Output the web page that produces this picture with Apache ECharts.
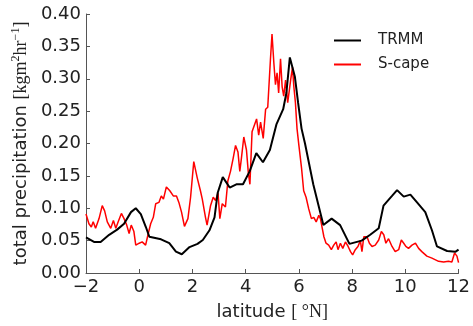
<!DOCTYPE html>
<html>
<head>
<meta charset="utf-8">
<script src="https://cdn.jsdelivr.net/npm/echarts@6/dist/echarts.min.js"></script>
<style>
html,body{margin:0;padding:0;background:#fff;}
#c{width:473px;height:326px;}
</style>
</head>
<body>
<div id="c"></div>
<script>
// ---- data ----
const xTicks = [-2, 0, 2, 4, 6, 8, 10, 12];
const yTicks = [0.00, 0.05, 0.10, 0.15, 0.20, 0.25, 0.30, 0.35, 0.40];
const seriesNames = ['TRMM', 'S-cape'];

const trmmLat = [-2.0,-1.7,-1.45,-1.13,-0.83,-0.57,-0.31,-0.13,0.06,0.25,0.38,0.82,1.13,1.38,1.6,1.89,2.19,2.39,2.64,2.83,2.95,3.14,3.40,3.65,3.90,4.15,4.40,4.65,4.91,5.16,5.41,5.53,5.66,5.85,5.97,6.10,6.23,6.54,6.92,7.23,7.55,7.90,8.36,8.68,9.0,9.18,9.50,9.69,9.94,10.19,10.44,10.75,11.0,11.19,11.57,11.89,12.0];
const trmmVal = [0.055,0.048,0.048,0.059,0.067,0.076,0.094,0.100,0.091,0.071,0.056,0.052,0.046,0.033,0.029,0.040,0.045,0.051,0.066,0.086,0.124,0.148,0.132,0.137,0.137,0.157,0.185,0.171,0.190,0.230,0.253,0.278,0.333,0.303,0.263,0.223,0.200,0.137,0.074,0.084,0.074,0.045,0.050,0.059,0.069,0.104,0.119,0.128,0.118,0.121,0.109,0.094,0.066,0.041,0.034,0.033,0.036];

const scapeLat = [-2.0,-1.89,-1.80,-1.73,-1.64,-1.51,-1.39,-1.30,-1.20,-1.07,-0.97,-0.88,-0.79,-0.67,-0.57,-0.47,-0.38,-0.30,-0.20,-0.13,0.0,0.11,0.24,0.34,0.43,0.53,0.62,0.74,0.83,0.91,1.02,1.15,1.28,1.40,1.49,1.59,1.70,1.83,1.93,2.05,2.18,2.30,2.37,2.49,2.55,2.68,2.78,2.87,2.96,3.03,3.12,3.24,3.33,3.43,3.53,3.62,3.71,3.78,3.84,3.93,4.03,4.10,4.16,4.24,4.41,4.49,4.56,4.66,4.75,4.83,4.93,4.99,5.06,5.12,5.18,5.24,5.31,5.37,5.43,5.50,5.58,5.69,5.76,5.81,5.87,5.93,6.0,6.10,6.18,6.27,6.37,6.47,6.56,6.65,6.75,6.81,6.87,6.94,7.02,7.12,7.22,7.31,7.40,7.47,7.56,7.65,7.75,7.85,7.94,8.02,8.12,8.22,8.31,8.37,8.44,8.56,8.65,8.75,8.87,9.0,9.10,9.19,9.27,9.37,9.50,9.62,9.75,9.85,9.94,10.02,10.12,10.25,10.38,10.50,10.62,10.81,11.0,11.25,11.44,11.62,11.75,11.85,11.94,12.0];
const scapeVal = [0.091,0.076,0.071,0.079,0.069,0.084,0.104,0.096,0.079,0.069,0.081,0.069,0.079,0.092,0.084,0.074,0.061,0.074,0.064,0.043,0.046,0.048,0.043,0.061,0.076,0.086,0.107,0.109,0.119,0.114,0.133,0.127,0.119,0.119,0.109,0.094,0.072,0.084,0.117,0.172,0.147,0.127,0.114,0.086,0.074,0.104,0.117,0.112,0.124,0.084,0.107,0.102,0.142,0.157,0.177,0.197,0.187,0.157,0.177,0.210,0.190,0.155,0.137,0.218,0.238,0.213,0.233,0.208,0.253,0.256,0.329,0.369,0.324,0.291,0.309,0.278,0.331,0.288,0.273,0.298,0.263,0.298,0.318,0.288,0.263,0.223,0.197,0.162,0.127,0.117,0.099,0.084,0.086,0.079,0.089,0.084,0.071,0.056,0.046,0.043,0.036,0.043,0.048,0.036,0.046,0.038,0.048,0.041,0.033,0.028,0.036,0.041,0.050,0.033,0.056,0.056,0.046,0.041,0.043,0.051,0.064,0.059,0.046,0.053,0.041,0.033,0.036,0.051,0.046,0.041,0.038,0.043,0.046,0.038,0.033,0.026,0.023,0.018,0.017,0.018,0.017,0.031,0.026,0.016];

const zip = (a, b) => a.map((v, i) => [v, b[i]]);

const chart = echarts.init(document.getElementById('c'), null, {renderer: 'canvas'});
const sans = 'DejaVu Sans';
const serif = 'Liberation Serif';
const txt = '#222';

chart.setOption({
  animation: false,
  backgroundColor: '#fff',
  grid: {left: 86, right: 14, top: 14, bottom: 50, containLabel: false},
  legend: {
    orient: 'vertical', left: 329, top: 28,
    icon: 'rect', itemWidth: 27, itemHeight: 2, itemGap: 9,
    textStyle: {fontFamily: sans, fontSize: 15, color: txt, padding: [0, 0, 0, 12]},
    data: seriesNames
  },
  xAxis: {
    type: 'value', min: xTicks[0], max: xTicks[xTicks.length - 1], interval: 2,
    axisLine: {show: true, onZero: false, lineStyle: {color: '#555', width: 1}},
    axisTick: {show: true, inside: true, length: 4, lineStyle: {color: '#555'}},
    splitLine: {show: false},
    axisLabel: {fontFamily: sans, fontSize: 18, color: txt, margin: 5,
      formatter: v => String(v).replace('-', '\u2212')},
    name: '{a|latitude }{b|[ °N]}',
    nameLocation: 'middle', nameGap: 28,
    nameTextStyle: {rich: {
      a: {fontFamily: sans, fontSize: 18, color: txt, lineHeight: 22},
      b: {fontFamily: serif, fontSize: 18, color: txt, lineHeight: 22}
    }}
  },
  yAxis: {
    type: 'value', min: yTicks[0], max: yTicks[yTicks.length - 1], interval: 0.05,
    axisLine: {show: true, onZero: false, lineStyle: {color: '#555', width: 1}},
    axisTick: {show: true, inside: true, length: 4, lineStyle: {color: '#555'}},
    splitLine: {show: false},
    axisLabel: {fontFamily: sans, fontSize: 18, color: txt, margin: 5,
      formatter: v => v.toFixed(2)},
    name: '{a|total precipitation }{b|[kgm}{s|2}{b|hr}{s|−1}{b|]}',
    nameLocation: 'middle', nameGap: 52, nameRotate: 90,
    nameTextStyle: {rich: {
      a: {fontFamily: sans, fontSize: 18, color: txt, lineHeight: 22},
      b: {fontFamily: serif, fontSize: 18, color: txt, lineHeight: 22},
      s: {fontFamily: serif, fontSize: 12, color: txt, lineHeight: 12, verticalAlign: 'top'}
    }}
  },
  series: [
    {name: seriesNames[0], type: 'line', data: zip(trmmLat, trmmVal), showSymbol: false,
     lineStyle: {color: '#000', width: 2}, itemStyle: {color: '#000'}, z: 3},
    {name: seriesNames[1], type: 'line', data: zip(scapeLat, scapeVal), showSymbol: false,
     lineStyle: {color: '#ff0000', width: 1.5}, itemStyle: {color: '#ff0000'}, z: 2}
  ]
});
</script>
</body>
</html>
